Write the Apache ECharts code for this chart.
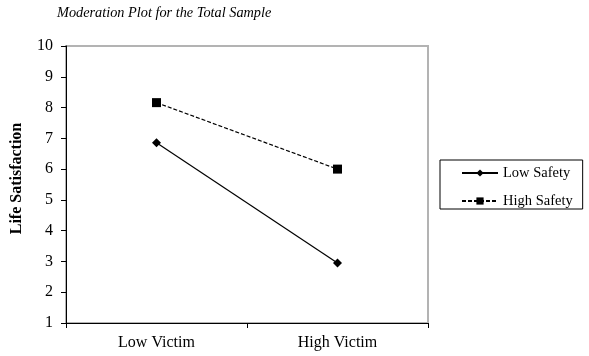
<!DOCTYPE html>
<html>
<head>
<meta charset="utf-8">
<script src="https://cdn.jsdelivr.net/npm/echarts@6/dist/echarts.min.js"></script>
<style>
  html, body { margin: 0; padding: 0; background: #fff; }
  #main { width: 589px; height: 356px; }
</style>
</head>
<body>
<div id="main"></div>
<script>
  // data
  var categories = ['Low Victim', 'High Victim'];
  var lowSafety = [6.86, 2.95];
  var highSafety = [8.16, 6.0];
  var seriesNames = ['Low Safety', 'High Safety'];

  var serif = '"Liberation Serif", "DejaVu Serif", serif';
  var chart = echarts.init(document.getElementById('main'));

  var option = {
    animation: false,
    backgroundColor: '#fff',
    title: {
      text: 'Moderation Plot for the Total Sample',
      left: 57,
      top: 6,
      padding: 0,
      textStyle: { fontFamily: serif, fontStyle: 'italic', fontWeight: 'normal', fontSize: 14.3, color: '#000' }
    },
    grid: {
      left: 66, right: 161, top: 46, bottom: 33,
      outerBoundsMode: 'none',
      containLabel: false,
      show: true,
      borderColor: '#b3b3b3',
      borderWidth: 2
    },
    legend: {
      orient: 'vertical',
      left: 440,
      top: 160,
      padding: [5, 10, 0, 21],
      itemGap: 12,
      itemWidth: 36,
      itemHeight: 9,
      borderColor: '#000',
      borderWidth: 1,
      data: seriesNames,
      textStyle: { fontFamily: serif, fontSize: 14.5, lineHeight: 16, color: '#000' }
    },
    xAxis: {
      type: 'category',
      data: categories,
      boundaryGap: true,
      axisLine: { lineStyle: { color: '#000', width: 1 } },
      axisTick: { show: true, length: 5, lineStyle: { color: '#000' } },
      axisLabel: { fontFamily: serif, fontSize: 16, color: '#000', margin: 12 },
      splitLine: { show: false }
    },
    yAxis: {
      type: 'value',
      min: 1, max: 10, interval: 1,
      name: 'Life Satisfaction',
      nameLocation: 'middle',
      nameGap: 41,
      nameTextStyle: { fontFamily: serif, fontSize: 16, fontWeight: 'bold', color: '#000', padding: [0, 0, 0, 12] },
      axisLine: { show: true, lineStyle: { color: '#000', width: 1 } },
      axisTick: { show: true, length: 5, lineStyle: { color: '#000' } },
      axisLabel: { fontFamily: serif, fontSize: 16, color: '#000', margin: 13 },
      splitLine: { show: false }
    },
    series: [
      {
        name: seriesNames[0],
        type: 'line',
        data: lowSafety,
        symbol: 'diamond',
        symbolSize: 9,
        itemStyle: { color: '#000' },
        lineStyle: { color: '#000', width: 1.2, type: 'solid' }
      },
      {
        name: seriesNames[1],
        type: 'line',
        data: highSafety,
        symbol: 'rect',
        symbolSize: 9,
        itemStyle: { color: '#000' },
        lineStyle: { color: '#000', width: 1.2, type: [4, 2] }
      }
    ]
  };

  chart.setOption(option);
</script>
</body>
</html>
